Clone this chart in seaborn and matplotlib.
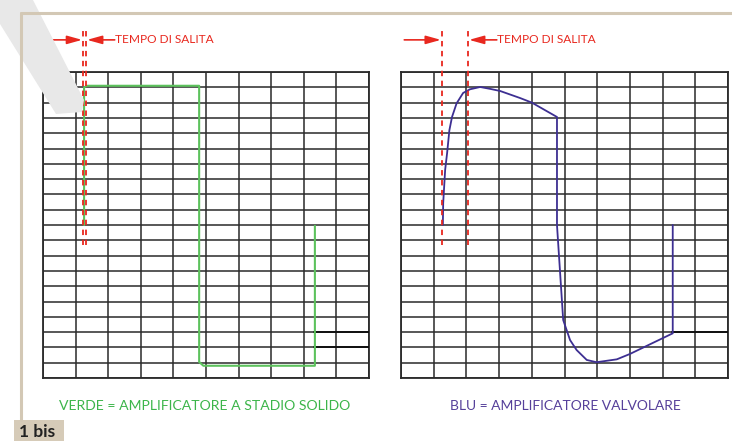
import matplotlib
matplotlib.use("Agg")
import matplotlib.pyplot as plt
import matplotlib.patches as mpatches
import pandas as pd
import seaborn as sns

# ===== data (grid units: 10 columns x 20 rows) =====
green_x = [1.26, 1.26, 1.35, 4.79, 4.79, 4.92, 8.34, 8.34]
green_y = [10.0, 19.0, 19.1, 19.1, 1.05, 0.8, 0.8, 9.95]

blue_x = [1.28, 1.29, 1.35, 1.41, 1.48, 1.56, 1.70, 1.90, 2.11, 2.42, 2.72, 3.03,
          3.64, 4.00, 4.77, 4.77, 4.96, 5.17, 5.37, 5.68, 5.98, 6.60, 7.00, 8.31, 8.31]
blue_y = [10.0, 11.42, 13.6, 14.7, 16.2, 17.06, 17.95, 18.63, 18.87, 19.02, 18.9, 18.76,
          18.3, 18.0, 17.06, 10.0, 3.79, 2.48, 1.83, 1.18, 1.03, 1.22, 1.57, 2.92, 10.0]

# rise-time markers (x of dashed lines) per panel
rise_left = [1.23, 1.32]
rise_right = [1.25, 2.05]

label_rise = "TEMPO DI SALITA"
caption_left = "VERDE = AMPLIFICATORE A STADIO SOLIDO"
caption_right = "BLU = AMPLIFICATORE VALVOLARE"

GREEN = "#5cc25c"
GREEN_TXT = "#3cb54a"
BLUE = "#3d2f92"
BLUE_TXT = "#56409a"
RED = "#e8281f"
BEIGE = "#d3c8b5"

sns.set_style("white")
plt.rcParams["font.family"] = ["Lato", "DejaVu Sans"]

fig = plt.figure(figsize=(7.32, 4.41), dpi=100)
W, H = 732, 441

def fx(px):
    return px / W

def fy(py):
    return 1 - py / H

# ===== decorations: watermark band, beige frame, tag =====
band = mpatches.Polygon([(fx(0), fy(0)), (fx(33), fy(0)), (fx(84), fy(100)),
                         (fx(82), fy(112)), (fx(56), fy(114)), (fx(0), fy(24))],
                        closed=True, transform=fig.transFigure,
                        facecolor="#e8e8e8", edgecolor="none", zorder=0)
fig.patches.append(band)
fig.add_artist(plt.Line2D([fx(21), fx(732)], [fy(13), fy(13)], color=BEIGE, lw=2.2))
fig.add_artist(plt.Line2D([fx(21), fx(21)], [fy(13), fy(420)], color=BEIGE, lw=2.2))
fig.patches.append(mpatches.Rectangle((fx(14), fy(441)), fx(50), fy(420) - fy(441),
                                      transform=fig.transFigure, facecolor="#d6cbb8",
                                      edgecolor="none"))
fig.text(fx(19), fy(432), "1 bis", fontsize=12.5, fontweight="bold", color="#222222",
         va="center", ha="left")

ax_l = fig.add_axes([fx(43), fy(378), fx(369) - fx(43), fy(72) - fy(378)])
ax_r = fig.add_axes([fx(401), fy(378), fx(728) - fx(401), fy(72) - fy(378)])

for ax in (ax_l, ax_r):
    ax.set_facecolor("none")
    ax.set_xlim(0, 10)
    ax.set_ylim(0, 20)
    ax.set_xticks(range(11))
    ax.set_yticks(range(21))
    ax.tick_params(length=0, labelbottom=False, labelleft=False)
    ax.grid(True, color="#2a2a2a", lw=1.1)
    for s in ax.spines.values():
        s.set_color("#2a2a2a")
        s.set_linewidth(1.3)

# darker grid segments at bottom right
for ax, ys in ((ax_l, [3, 2]), (ax_r, [3])):
    for yv in ys:
        ax.plot([8.3, 10], [yv, yv], color="#111111", lw=1.4, zorder=3)

# ===== curves =====
df_g = pd.DataFrame({"x": green_x, "y": green_y})
df_b = pd.DataFrame({"x": blue_x, "y": blue_y})
sns.lineplot(data=df_g, x="x", y="y", ax=ax_l, sort=False, estimator=None,
             color=GREEN, lw=1.5, zorder=4)
sns.lineplot(data=df_b, x="x", y="y", ax=ax_r, sort=False, estimator=None,
             color=BLUE, lw=1.3, zorder=4)
for ax in (ax_l, ax_r):
    ax.set_xlabel("")
    ax.set_ylabel("")

# ===== rise-time markers =====
y_arrow = 22.1
for ax, xs in ((ax_l, rise_left), (ax_r, rise_right)):
    for xv in xs:
        ax.plot([xv, xv], [8.7, 22.95], color=RED, lw=1.3, ls=(0, (3.0, 2.5)),
                clip_on=False, zorder=5)
    a, b = xs
    ax.annotate("", xy=(a - 0.03, y_arrow), xytext=(a - 1.15, y_arrow),
                arrowprops=dict(arrowstyle="-|>,head_length=0.9,head_width=0.25",
                                color=RED, lw=1.2, shrinkA=0, shrinkB=0),
                annotation_clip=False)
    ax.annotate("", xy=(b + 0.03, y_arrow), xytext=(b + 0.88, y_arrow),
                arrowprops=dict(arrowstyle="-|>,head_length=0.9,head_width=0.25",
                                color=RED, lw=1.2, shrinkA=0, shrinkB=0),
                annotation_clip=False)
    ax.text(b + 0.9, y_arrow, label_rise, color=RED, fontsize=8.6,
            va="center", ha="left", clip_on=False)

# ===== captions =====
fig.text(fx(205), fy(406), caption_left, color=GREEN_TXT, fontsize=10.1,
         ha="center", va="center")
fig.text(fx(565), fy(406), caption_right, color=BLUE_TXT, fontsize=10.0,
         ha="center", va="center")

fig.savefig("out.png", dpi=100)
